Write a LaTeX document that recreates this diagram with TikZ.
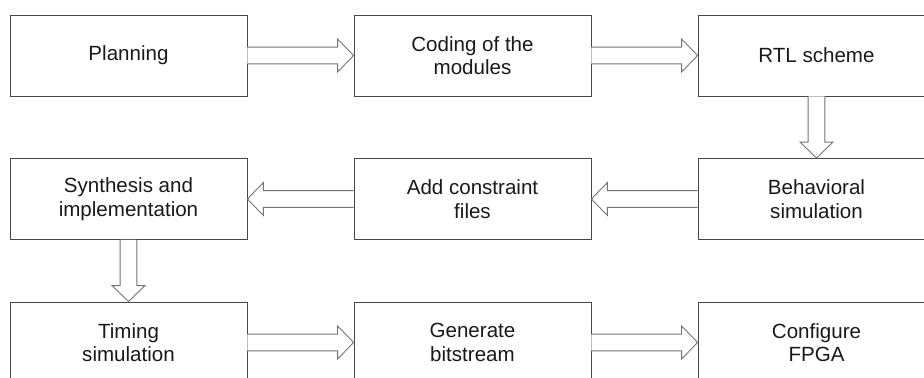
\documentclass[tikz,border=0pt]{standalone}
\usepackage{fontspec}
\setmainfont{Liberation Sans}
\usetikzlibrary{calc,positioning}

\tikzset{
  stage/.style={draw=black!72, line width=0.5pt, minimum width=4.74cm, minimum height=1.62cm,
    inner sep=2pt, align=center, text=black!90, font=\fontsize{11.7}{13.4}\selectfont},
  arrowline/.style={draw=black!55, line width=0.5pt, fill=white, line join=miter}
}

% hollow block arrow from #1 to #2
\newcommand\blockarrow[2]{%
  \path (#1) coordinate (bs) (#2) coordinate (be);
  \path ($(be)!9.1pt!(bs)$) coordinate (bh);
  \draw[arrowline] ($(bs)!4.8pt!90:(be)$) -- ($(bh)!4.8pt!90:(be)$) -- ($(bh)!9.4pt!90:(be)$)
    -- (be) -- ($(bh)!9.4pt!-90:(be)$) -- ($(bh)!4.8pt!-90:(be)$) -- ($(bs)!4.8pt!-90:(be)$);
}

\begin{document}
\begin{tikzpicture}[x=0.02cm, y=-0.02cm]
  \useasboundingbox (0,0) rectangle (924,378);
  \clip (0,0) rectangle (924,378);

  \node[stage] (plan) at (128.5,55.5) {Planning};
  \node[stage] (code) at (472.5,55.5) {Coding of the\\modules};
  \node[stage] (rtl) at (816.5,55.5) {RTL scheme};
  \node[stage] (behav) at (816.5,199) {Behavioral\\simulation};
  \node[stage] (cons) at (472.5,199) {Add constraint\\files};
  \node[stage] (synth) at (128.5,199) {Synthesis and\\implementation};
  \node[stage] (timing) at (128.5,342.5) {Timing\\simulation};
  \node[stage] (bits) at (472.5,342.5) {Generate\\bitstream};
  \node[stage] (fpga) at (816.5,342.5) {Configure\\FPGA};

  \blockarrow{plan.east}{code.west}
  \blockarrow{code.east}{rtl.west}
  \blockarrow{rtl.south}{behav.north}
  \blockarrow{behav.west}{cons.east}
  \blockarrow{cons.west}{synth.east}
  \blockarrow{synth.south}{timing.north}
  \blockarrow{timing.east}{bits.west}
  \blockarrow{bits.east}{fpga.west}
\end{tikzpicture}
\end{document}
